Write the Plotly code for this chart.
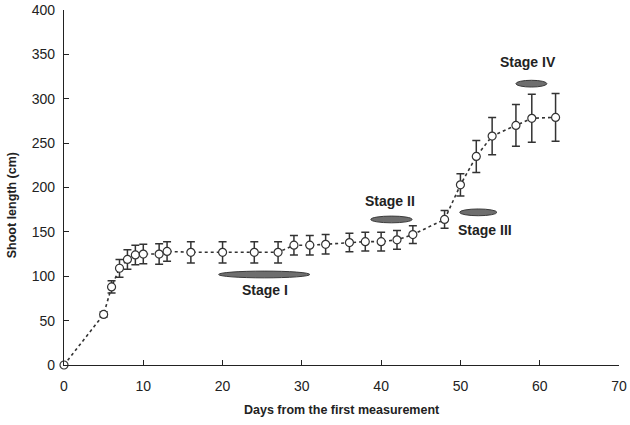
import plotly.graph_objects as go

days = [0, 5, 6, 7, 8, 9, 10, 12, 13, 16, 20, 24, 27, 29, 31, 33, 36, 38, 40, 42, 44, 48, 50, 52, 54, 57, 59, 62]
length = [0, 57, 88, 109, 119, 124, 125, 125, 128, 127, 127, 127, 127, 135, 135, 136, 138, 139, 139, 141, 147, 164, 203, 235, 258, 270, 278, 279]
err = [0, 3, 7, 10, 11, 11, 11, 11.5, 11, 12, 12, 12, 12, 11, 11, 11, 10.5, 10.5, 10.5, 10.5, 10, 10, 12.5, 18, 21, 23.5, 27, 27]

stage_names = ["Stage I", "Stage II", "Stage III", "Stage IV"]
stage_x0 = [19.5, 38.7, 49.9, 57.0]
stage_x1 = [31.0, 43.9, 54.6, 60.9]
stage_y = [102, 164, 172, 317]
stage_label_x = [25.3, 41.1, 53.1, 58.5]
stage_label_y = [84, 185, 152, 341]

x_title = "Days from the first measurement"
y_title = "Shoot length (cm)"

font = "Liberation Sans, Arial, sans-serif"
fig = go.Figure()
fig.add_trace(go.Scatter(
    x=days, y=length, mode="lines+markers",
    line=dict(color="#333333", width=1.6, dash="dot"),
    marker=dict(symbol="circle", size=8, color="white", line=dict(color="#333333", width=1.2)),
    error_y=dict(type="data", array=err, visible=True, color="#333333", thickness=1.5, width=4),
    showlegend=False, cliponaxis=False,
))

for i, name in enumerate(stage_names):
    fig.add_shape(type="circle", xref="x", yref="y",
                  x0=stage_x0[i], x1=stage_x1[i], y0=stage_y[i] - 3.8, y1=stage_y[i] + 3.8,
                  fillcolor="#6e6e6e", line=dict(color="#3a3a3a", width=1))
    fig.add_annotation(x=stage_label_x[i], y=stage_label_y[i], text="<b>" + name + "</b>",
                       showarrow=False, font=dict(family=font, size=14, color="#222222"))

fig.add_annotation(xref="paper", yref="paper", x=0.5, y=0, yshift=-45, yanchor="middle",
                   text="<b>" + x_title + "</b>", showarrow=False,
                   font=dict(family=font, size=12.5, color="#222222"))
fig.add_annotation(xref="paper", yref="paper", x=0, y=0.45, xshift=-52, xanchor="center",
                   textangle=-90, text="<b>" + y_title + "</b>", showarrow=False,
                   font=dict(family=font, size=12.5, color="#222222"))

fig.update_layout(
    width=630, height=425,
    margin=dict(l=64, r=11, t=10, b=60),
    paper_bgcolor="white", plot_bgcolor="white",
    font=dict(family=font, color="#222222"),
)
fig.update_xaxes(range=[0, 70], tickvals=list(range(0, 71, 10)), ticks="inside", ticklen=5,
                 tickcolor="#222222", showline=True, linecolor="#222222", linewidth=1.2,
                 showgrid=False, zeroline=False, tickfont=dict(size=14),
                 automargin=False, ticklabeloverflow="allow", ticklabelstandoff=8)
fig.update_yaxes(range=[0, 400], tickvals=list(range(0, 401, 50)), ticks="inside", ticklen=5,
                 tickcolor="#222222", showline=True, linecolor="#222222", linewidth=1.2,
                 showgrid=False, zeroline=False, tickfont=dict(size=14),
                 automargin=False, ticklabeloverflow="allow", ticklabelstandoff=5)
fig.write_html("out.html", config={"displayModeBar": False},
               post_script="document.body.style.margin='0';document.body.style.overflow='hidden';")
